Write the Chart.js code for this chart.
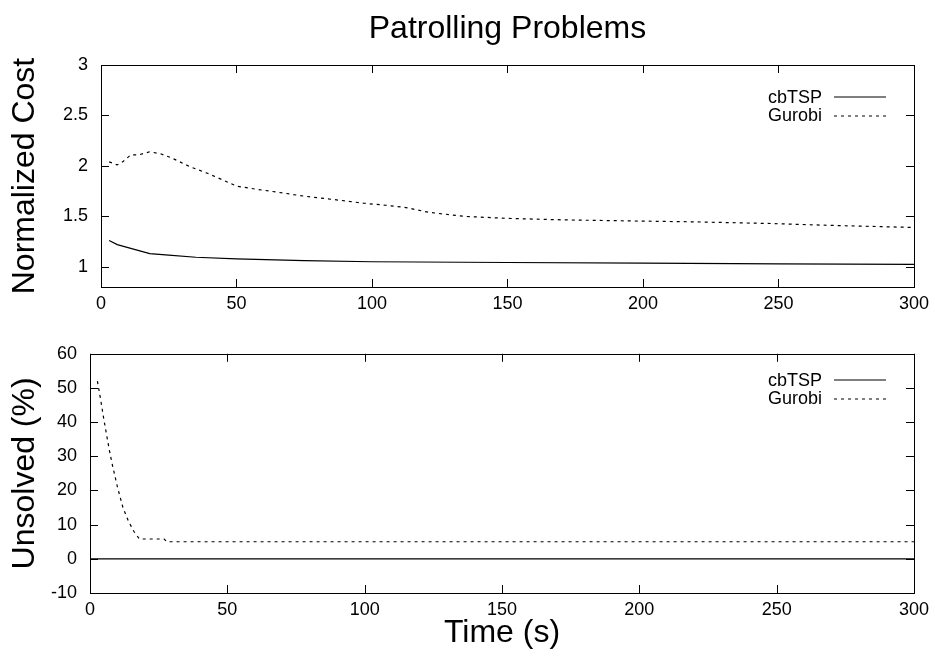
<!DOCTYPE html>
<html>
<head>
<meta charset="utf-8">
<script src="https://cdn.jsdelivr.net/npm/chart.js@4.4.0/dist/chart.umd.min.js"></script>
<style>
  html, body { margin: 0; padding: 0; background: #fff; }
  #wrap { position: relative; width: 935px; height: 660px; }
  canvas { position: absolute; left: 0; }
  .key { position: absolute; right: 49px; height: 18px; display: flex; align-items: center;
         font: 18px 'Liberation Sans', Arial, sans-serif; color: #000; white-space: nowrap; }
  .key svg { margin-left: 12px; }
</style>
</head>
<body>
<div id="wrap">
  <canvas id="costChart" width="935" height="330" style="top:0"></canvas>
  <canvas id="unsolvedChart" width="935" height="330" style="top:330px"></canvas>
</div>
<script>
// values
var seriesNames = ['cbTSP', 'Gurobi'];
var timeTicks = [0, 50, 100, 150, 200, 250, 300];

var cbtspCostTime = [3, 6, 10, 14, 18, 25, 35, 50, 75, 100, 150, 200, 250, 300];
var cbtspCost = [1.26, 1.22, 1.19, 1.16, 1.13, 1.115, 1.095, 1.078, 1.062, 1.05, 1.043, 1.037, 1.03, 1.025];

var gurobiCostTime = [3, 6, 8, 11, 14, 18, 22, 26, 33, 39, 45, 50, 57, 65, 75, 88, 97, 105, 112, 121, 134, 150, 171, 195, 220, 246, 270, 300];
var gurobiCost = [2.04, 2.01, 2.04, 2.11, 2.11, 2.14, 2.12, 2.08, 1.99, 1.93, 1.86, 1.80, 1.77, 1.74, 1.70, 1.66, 1.63, 1.61, 1.59, 1.54, 1.50, 1.48, 1.465, 1.455, 1.445, 1.43, 1.41, 1.39];

var cbtspUnsolvedTime = [0, 300];
var cbtspUnsolved = [0, 0];

var gurobiUnsolvedTime = [2.7, 4, 5, 6, 7, 8, 9, 10, 11, 12, 13, 14, 15, 16, 18, 27, 28, 300];
var gurobiUnsolved = [52, 46, 41, 36.5, 32, 28, 24.5, 21, 18, 15, 13, 11, 9.5, 8, 5.8, 5.8, 5.0, 5.0];

function pts(xs, ys) {
  return xs.map(function (x, i) { return { x: x, y: ys[i] }; });
}

var font = "'Liberation Sans', Arial, sans-serif";

// gnuplot style frame with inward ticks on all four sides
var frame = {
  id: 'frame',
  afterDraw: function (chart) {
    var ctx = chart.ctx, a = chart.chartArea, sx = chart.scales.x, sy = chart.scales.y;
    ctx.save();
    ctx.strokeStyle = '#000';
    ctx.lineWidth = 1;
    ctx.beginPath();
    sx.ticks.forEach(function (t) {
      var p = Math.round(sx.getPixelForValue(t.value)) + 0.5;
      ctx.moveTo(p, a.bottom); ctx.lineTo(p, a.bottom - 8);
      ctx.moveTo(p, a.top); ctx.lineTo(p, a.top + 8);
    });
    sy.ticks.forEach(function (t) {
      var p = Math.round(sy.getPixelForValue(t.value)) + 0.5;
      ctx.moveTo(a.left, p); ctx.lineTo(a.left + 8, p);
      ctx.moveTo(a.right, p); ctx.lineTo(a.right - 8, p);
    });
    ctx.stroke();
    ctx.strokeRect(Math.round(a.left) + 0.5, Math.round(a.top) + 0.5,
                   Math.round(a.right - a.left), Math.round(a.bottom - a.top));
    ctx.restore();
  }
};

function lineSet(label, data, dashed) {
  return {
    label: label,
    data: data,
    borderColor: '#000',
    borderWidth: 1.2,
    borderDash: dashed ? [3, 4] : [],
    pointRadius: 0,
    tension: 0,
    fill: false
  };
}

function makeOptions(cfg) {
  return {
    responsive: false,
    animation: false,
    layout: { padding: { left: 0, right: 21, top: cfg.padTop, bottom: 0 } },
    plugins: {
      legend: { display: false },
      tooltip: { enabled: false },
      title: cfg.title ? {
        display: true,
        text: cfg.title,
        fullSize: false,
        color: '#000',
        font: { family: font, size: 32, weight: 'normal' },
        padding: { top: 10, bottom: 16.6 }
      } : { display: false }
    },
    scales: {
      x: {
        type: 'linear',
        min: 0, max: 300,
        afterBuildTicks: function (s) { s.ticks = timeTicks.map(function (v) { return { value: v }; }); },
        grid: { display: false, drawTicks: false },
        border: { display: false },
        ticks: { color: '#000', padding: 6, maxRotation: 0, font: { family: font, size: 18 } },
        title: cfg.xTitle ? {
          display: true, text: cfg.xTitle, color: '#000',
          font: { family: font, size: 32 }, padding: { top: 0, bottom: 8 }
        } : { display: false },
        afterFit: function (s) { s.height = cfg.xHeight; }
      },
      y: {
        min: cfg.yMin, max: cfg.yMax,
        grid: { display: false, drawTicks: false },
        border: { display: false },
        ticks: { color: '#000', padding: 13, stepSize: cfg.yStep, includeBounds: false,
                 font: { family: font, size: 18 },
                 callback: function (v) { return String(v); } },
        title: {
          display: true, text: cfg.yTitle, color: '#000',
          font: { family: font, size: 32 }, padding: { top: 6, bottom: 0 }
        },
        afterFit: function (s) { s.width = cfg.yWidth; }
      }
    }
  };
}

var costChart = new Chart(document.getElementById('costChart'), {
  type: 'line',
  data: {
    datasets: [
      lineSet(seriesNames[0], pts(cbtspCostTime, cbtspCost), false),
      lineSet(seriesNames[1], pts(gurobiCostTime, gurobiCost), true)
    ]
  },
  options: makeOptions({
    title: 'Patrolling Problems', padTop: 0, xHeight: 43, yWidth: 101,
    yMin: 0.8, yMax: 3, yStep: 0.5, yTitle: 'Normalized Cost'
  }),
  plugins: [frame]
});

var unsolvedChart = new Chart(document.getElementById('unsolvedChart'), {
  type: 'line',
  data: {
    datasets: [
      lineSet(seriesNames[0], pts(cbtspUnsolvedTime, cbtspUnsolved), false),
      lineSet(seriesNames[1], pts(gurobiUnsolvedTime, gurobiUnsolved), true)
    ]
  },
  options: makeOptions({
    padTop: 15, xHeight: 67, yWidth: 90, xTitle: 'Time (s)',
    yMin: -10, yMax: 60, yStep: 10, yTitle: 'Unsolved (%)'
  }),
  plugins: [frame]
});

// key in the top right corner, text first then the line sample
function addKey(chart, top) {
  var wrap = document.getElementById('wrap');
  chart.data.datasets.forEach(function (ds, i) {
    var row = document.createElement('div');
    row.className = 'key';
    row.style.top = (top + i * 18.5) + 'px';
    var dash = ds.borderDash.length ? ' stroke-dasharray="3 4"' : '';
    row.innerHTML = '<span>' + ds.label + '</span>' +
      '<svg width="52" height="4"><line x1="0" y1="2" x2="52" y2="2" stroke="#000" stroke-width="1.2"' + dash + '/></svg>';
    wrap.appendChild(row);
  });
}
addKey(costChart, 88);
addKey(unsolvedChart, 371);
</script>
</body>
</html>
